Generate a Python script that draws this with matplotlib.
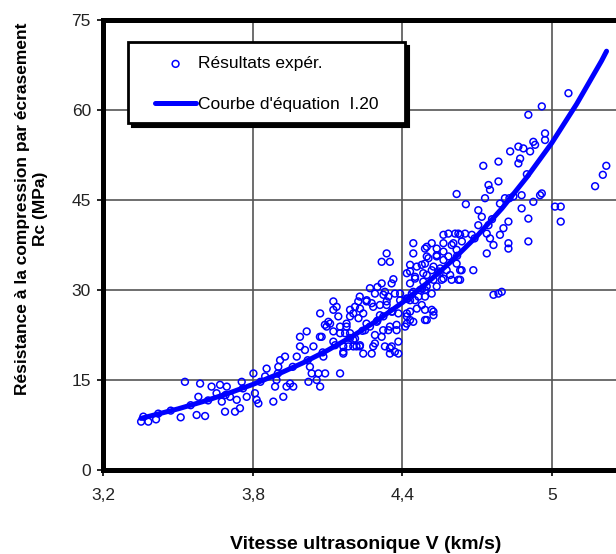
import matplotlib
matplotlib.use('Agg')
import matplotlib.pyplot as plt
from matplotlib.patches import Rectangle

plt.rcParams['font.family'] = ['Liberation Sans', 'DejaVu Sans']

# ---- data ----
# Experimental results (V in km/s, Rc in MPa), grouped by region of the cloud
v_low = [3.351, 3.380, 3.411, 3.510, 3.527, 3.574, 3.608, 3.588, 3.581, 3.634,
         3.654, 3.668, 3.695, 3.675, 3.688, 3.728, 3.748, 3.708, 3.735, 3.755,
         3.775, 3.802, 3.808, 3.815, 3.822, 3.855, 3.849, 3.882, 3.889, 3.895,
         3.902, 3.909, 3.922, 3.929, 3.935, 3.949, 3.962, 3.976, 3.989, 3.989,
         4.009, 4.016, 4.023, 4.029, 4.036, 4.043, 4.056, 4.063, 4.070, 4.076,
         4.083, 4.090, 4.096, 4.110, 4.070, 4.123, 4.136, 4.143, 4.150, 4.150,
         4.163, 4.170, 4.176, 4.190, 4.203, 4.210, 4.216, 4.223, 4.203, 4.183]
rc_low = [8.06, 8.06, 8.44, 8.78, 14.7, 9.17, 9.0, 14.4, 12.2, 13.9,
          12.8, 14.2, 13.9, 11.4, 9.72, 9.72, 10.3, 12.2, 11.7, 14.7,
          12.2, 16.1, 12.8, 11.7, 11.1, 16.9, 15.6, 11.4, 13.9, 15.0,
          17.2, 18.3, 12.2, 18.9, 13.9, 14.4, 13.9, 18.9, 20.6, 22.2,
          20.0, 23.1, 14.7, 17.2, 16.1, 20.6, 15.0, 16.1, 13.9, 22.2,
          18.9, 16.1, 23.9, 24.4, 26.1, 28.1, 27.2, 25.6, 22.8, 16.1,
          19.7, 22.8, 23.9, 26.7, 26.1, 27.2, 20.6, 28.1, 21.7, 20.6]

v_mid = [4.337, 4.317, 4.350, 4.317, 4.357, 4.270, 4.330, 4.370, 4.229, 4.256,
         4.283, 4.337, 4.243, 4.310, 4.256, 4.350, 4.323, 4.377, 4.290, 4.229,
         4.283, 4.330, 4.243, 4.277, 4.350, 4.370]
rc_mid = [36.1, 34.7, 34.7, 31.1, 31.1, 30.3, 29.7, 29.4, 28.9, 28.1,
          27.2, 28.1, 26.1, 25.8, 24.4, 23.9, 23.3, 23.3, 22.5, 20.6,
          20.6, 20.6, 19.4, 19.4, 20.3, 19.7]

v_dense_left = [4.364, 4.300, 4.290, 4.324, 4.344, 4.257, 4.277, 4.310, 4.337, 4.123,
                4.230, 4.190, 4.224, 4.176, 4.150, 4.103, 4.089, 4.123, 4.190, 4.210,
                4.250, 4.270, 4.297, 4.324, 4.357, 4.391, 4.384, 4.377, 4.344, 4.317,
                4.290, 4.230, 4.203, 4.163, 4.123, 4.069, 4.357, 4.384, 4.384, 4.350,
                4.163]
rc_dense_left = [31.8, 30.5, 29.4, 29.2, 28.9, 28.3, 27.8, 27.5, 27.5, 26.7,
                 26.9, 25.6, 25.3, 24.4, 23.9, 24.7, 24.2, 23.1, 22.8, 21.9,
                 23.3, 23.9, 24.7, 25.6, 26.4, 28.3, 26.1, 24.2, 23.3, 22.2,
                 21.1, 20.8, 20.6, 20.6, 21.4, 22.2, 20.6, 21.4, 19.4, 19.4,
                 19.4]

v_dense_right = [4.498, 4.538, 4.565, 4.612, 4.632, 4.605, 4.618, 4.585, 4.565, 4.538,
                 4.505, 4.491, 4.458, 4.431, 4.451, 4.484, 4.518, 4.552, 4.578, 4.618,
                 4.638, 4.632, 4.565, 4.525, 4.498, 4.471, 4.438, 4.418, 4.451, 4.491,
                 4.518, 4.538, 4.431, 4.458, 4.491, 4.418, 4.444, 4.498, 4.525, 4.418]
rc_dense_right = [37.2, 36.9, 39.2, 39.4, 39.2, 37.8, 36.7, 35.6, 35.0, 35.8,
                  35.3, 34.4, 33.9, 33.1, 31.9, 32.8, 33.3, 33.6, 33.3, 34.4,
                  33.3, 31.7, 31.9, 31.7, 30.6, 30.0, 29.4, 28.6, 28.3, 28.9,
                  29.4, 30.6, 26.4, 26.9, 26.7, 25.6, 24.7, 25.0, 26.4, 24.4]

v_upper = [4.618, 4.655, 4.444, 4.444, 4.518, 4.491, 4.498, 4.565, 4.585, 4.625,
           4.652, 4.598, 4.639, 4.538, 4.565, 4.431, 4.478, 4.525, 4.418, 4.451,
           4.498, 4.545, 4.592, 4.632, 4.431, 4.484, 4.558, 4.598, 4.625, 4.391,
           4.444, 4.491, 4.431, 4.465, 4.478, 4.518, 4.525, 4.491, 4.418, 4.431,
           4.411]
rc_upper = [46.0, 44.3, 37.8, 36.1, 37.8, 36.9, 35.6, 37.8, 39.4, 39.4,
            39.4, 37.5, 38.1, 35.6, 36.4, 34.2, 34.2, 33.9, 32.8, 32.2,
            32.5, 33.1, 32.5, 33.3, 31.1, 31.4, 31.7, 31.7, 31.7, 29.4,
            29.7, 30.0, 28.3, 28.9, 27.5, 26.7, 25.8, 25.0, 26.1, 25.0,
            23.9]

v_high = [4.906, 4.926, 4.933, 4.866, 4.886, 4.833, 4.913, 4.873, 4.866, 4.786,
          4.725, 4.786, 4.746, 4.752, 4.732, 4.792, 4.812, 4.846, 4.879, 4.953,
          4.926, 4.879, 4.705, 4.719, 4.906, 4.705, 4.746, 4.826, 4.679, 4.739,
          4.806, 4.792, 4.752, 4.906, 4.826, 4.826, 4.766, 4.739, 4.685, 4.766,
          4.786, 4.799]
rc_high = [59.2, 54.7, 54.2, 53.9, 53.6, 53.1, 53.1, 51.9, 51.1, 51.4,
           50.7, 48.1, 47.5, 46.7, 45.3, 44.4, 45.3, 45.6, 45.8, 45.8,
           44.7, 43.6, 43.3, 42.2, 41.9, 40.8, 40.8, 41.4, 39.2, 39.4,
           40.3, 39.2, 38.6, 38.1, 37.8, 36.9, 37.5, 36.1, 33.3, 29.2,
           29.4, 29.7]

v_top = [5.067, 4.960, 4.973, 4.973, 4.960, 5.013, 5.036, 5.036, 5.174, 5.205, 5.219]
rc_top = [62.8, 60.6, 56.1, 55.0, 46.1, 43.9, 43.9, 41.4, 47.3, 49.2, 50.7]

# points lying under the fitted curve
v_band = [3.36, 3.42, 3.47, 3.55, 3.62, 3.69, 3.76, 3.83, 3.90, 3.96,
          4.02, 4.08, 4.13, 4.19, 4.24, 4.30, 4.36, 4.42, 4.48, 4.55,
          4.62, 4.69, 4.76, 4.83, 4.90]
rc_band = [8.9, 9.4, 9.9, 10.8, 11.6, 12.5, 13.6, 14.7, 16.1, 17.2,
           18.3, 19.6, 20.8, 22.0, 23.2, 24.9, 26.4, 28.5, 30.2, 32.9,
           35.7, 38.6, 41.8, 45.3, 49.3]

# fitted curve (equation I.20)
v_curve = [3.35, 3.4, 3.5, 3.6, 3.7, 3.8, 3.9, 4.0, 4.1, 4.2, 4.3,
           4.4, 4.5, 4.6, 4.7, 4.8, 4.9, 5.0, 5.1, 5.2, 5.22]
rc_curve = [8.6, 9.13, 10.2, 11.41, 12.76, 14.27, 15.96, 17.84, 19.95, 22.31, 24.95,
            27.9, 31.2, 34.9, 39.0, 43.6, 48.8, 54.5, 61.0, 68.2, 69.8]

x_ticks = [3.2, 3.8, 4.4, 5.0]
x_tick_labels = ['3,2', '3,8', '4,4', '5']
y_ticks = [0, 15, 30, 45, 60, 75]

label_points = 'Résultats expér.'
label_curve = "Courbe d'équation  I.20"

# ---- figure ----
fig = plt.figure(figsize=(6.16, 5.54), dpi=100)
ax = fig.add_axes([0.168, 0.1516, 0.849, 0.8123])

blue = '#0000FF'
v_all = v_low + v_mid + v_dense_left + v_dense_right + v_upper + v_high + v_top + v_band
rc_all = rc_low + rc_mid + rc_dense_left + rc_dense_right + rc_upper + rc_high + rc_top + rc_band

pts = ax.scatter(v_all, rc_all, s=24, facecolors='none', edgecolors=blue,
                 linewidths=1.1, zorder=3, label=label_points)
ln, = ax.plot(v_curve, rc_curve, color=blue, lw=3.6, zorder=4,
              solid_capstyle='round', label=label_curve)

ax.set_xlim(3.2, 5.3)
ax.set_ylim(0, 75)
ax.set_xticks(x_ticks)
ax.set_xticklabels(x_tick_labels)
ax.set_yticks(y_ticks)

ax.grid(True, color='#555555', lw=1.2, zorder=1)
ax.set_axisbelow(True)

for side in ['left', 'bottom', 'top']:
    ax.spines[side].set_linewidth(3.6)
    ax.spines[side].set_color('black')
ax.spines['right'].set_visible(False)

ax.tick_params(axis='both', direction='out', length=4, width=1.2, color='black',
               labelsize=12.5, labelcolor='#222222')
ax.tick_params(axis='x', pad=9)
ax.tick_params(axis='y', pad=5)

# legend box with shadow
x0, x1 = 0.0468, 0.5765
y0, y1 = 0.771, 0.951
shadow = Rectangle((x0 + 0.0075, y0 - 0.0085), x1 - x0, y1 - y0, transform=ax.transAxes,
                   facecolor='black', edgecolor='black', lw=1.5, zorder=5)
frame = Rectangle((x0, y0), x1 - x0, y1 - y0, transform=ax.transAxes,
                  facecolor='white', edgecolor='black', lw=2.0, zorder=6)
ax.add_patch(shadow)
ax.add_patch(frame)

leg = ax.legend(handles=[pts, ln], loc='upper left', bbox_to_anchor=(0.098, 0.9194),
                frameon=False, fontsize=12.5, handlelength=2.4, handletextpad=0.1,
                labelspacing=1.45, borderpad=0, borderaxespad=0, scatterpoints=1)
leg.set_zorder(7)

fig.text(0.594, 0.018, 'Vitesse ultrasonique V (km/s)', ha='center', va='center',
         fontsize=14, fontweight='bold')
fig.text(0.051, 0.623, 'Résistance à la compression par écrasement\nRc (MPa)',
         ha='center', va='center', rotation=90, fontsize=12.5, fontweight='bold',
         multialignment='center', linespacing=1.25)

fig.savefig('out.png', dpi=100)
